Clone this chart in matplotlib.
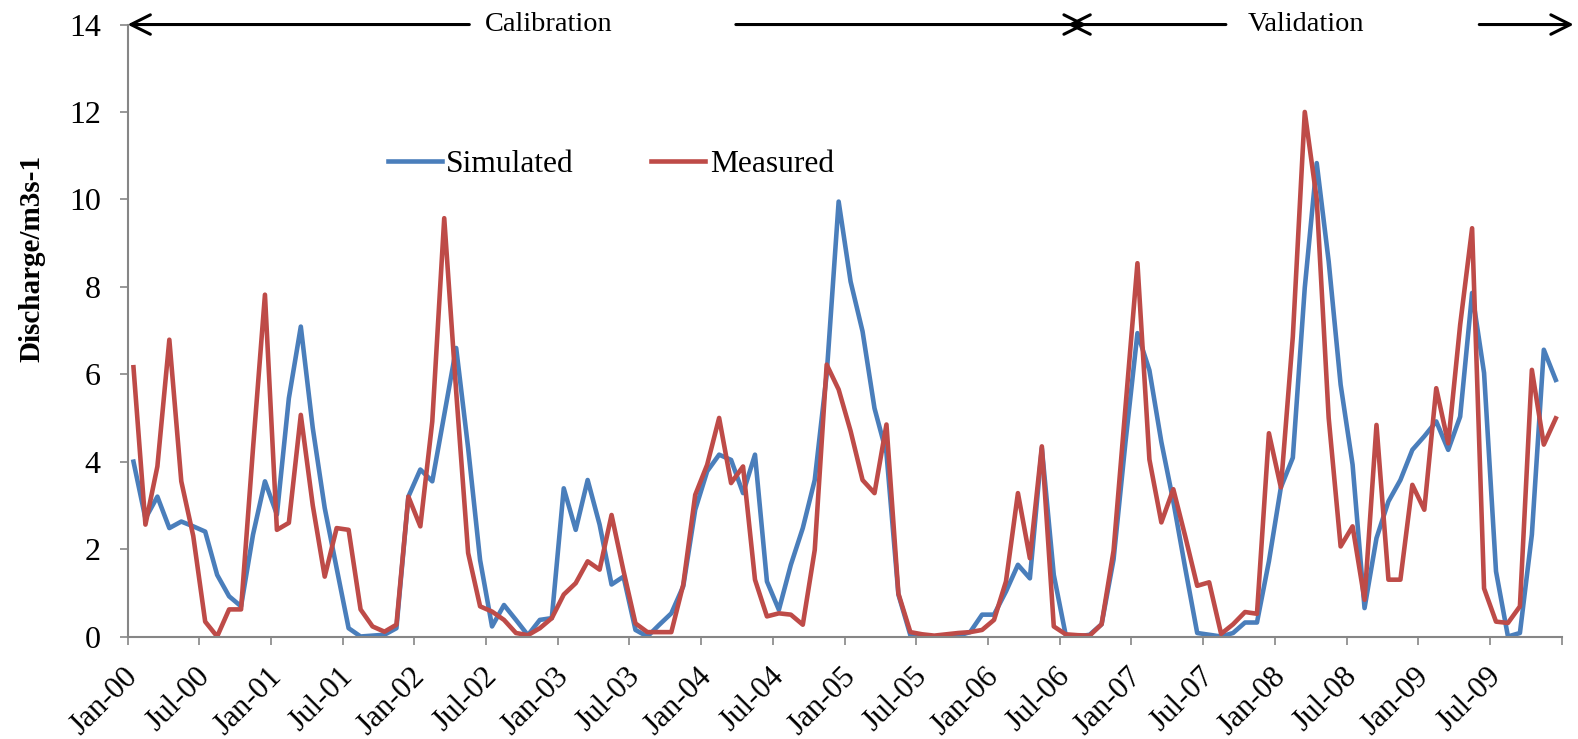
import numpy as np
import matplotlib
matplotlib.use("Agg")
import matplotlib.pyplot as plt
import matplotlib.transforms as mtransforms

plt.rcParams['font.family'] = ['Liberation Serif', 'DejaVu Serif']

# monthly discharge, Jan-2000 .. Dec-2009
simulated = [4.0, 2.7, 3.2, 2.48, 2.63, 2.52, 2.4, 1.41, 0.92, 0.69, 2.33, 3.55,
             2.79, 5.45, 7.09, 4.77, 2.94, 1.56, 0.19, 0.0, 0.02, 0.04, 0.19, 3.2,
             3.82, 3.55, 5.07, 6.6, 4.31, 1.75, 0.23, 0.72, 0.38, 0.03, 0.38, 0.42,
             3.39, 2.44, 3.58, 2.56, 1.19, 1.37, 0.15, 0.0, 0.27, 0.53, 1.15, 2.9,
             3.78, 4.16, 4.04, 3.28, 4.16, 1.26, 0.61, 1.64, 2.48, 3.58, 6.0, 9.95,
             8.12, 6.98, 5.22, 4.2, 0.96, 0.03, 0.0, 0.0, 0.0, 0.02, 0.1, 0.5,
             0.5, 1.03, 1.64, 1.33, 4.31, 1.41, 0.03, 0.0, 0.04, 0.28, 1.76, 4.45,
             6.94, 6.09, 4.45, 3.09, 1.56, 0.08, 0.04, 0.0, 0.08, 0.32, 0.32, 1.72,
             3.41, 4.09, 7.98, 10.83, 8.58, 5.76, 3.93, 0.65, 2.25, 3.09, 3.58, 4.27,
             4.58, 4.92, 4.27, 5.03, 7.86, 6.03, 1.49, 0.0, 0.08, 2.33, 6.56, 5.87]

measured = [6.16, 2.56, 3.89, 6.79, 3.55, 2.3, 0.34, 0.0, 0.62, 0.62, 4.3, 7.82,
            2.44, 2.6, 5.07, 3.0, 1.37, 2.48, 2.44, 0.62, 0.23, 0.11, 0.27, 3.2,
            2.52, 4.92, 9.57, 5.6, 1.91, 0.69, 0.57, 0.38, 0.08, 0.03, 0.19, 0.42,
            0.96, 1.22, 1.72, 1.53, 2.78, 1.5, 0.3, 0.1, 0.1, 0.1, 1.19, 3.24,
            3.93, 5.0, 3.51, 3.89, 1.3, 0.46, 0.53, 0.5, 0.27, 1.98, 6.22, 5.65,
            4.7, 3.58, 3.28, 4.85, 0.98, 0.1, 0.05, 0.02, 0.05, 0.08, 0.1, 0.15,
            0.38, 1.26, 3.28, 1.79, 4.35, 0.23, 0.05, 0.03, 0.02, 0.28, 1.96, 5.25,
            8.54, 4.05, 2.61, 3.37, 2.29, 1.16, 1.24, 0.06, 0.28, 0.56, 0.52, 4.65,
            3.41, 6.86, 12.0, 10.0, 5.0, 2.06, 2.52, 0.84, 4.84, 1.3, 1.3, 3.47,
            2.9, 5.68, 4.42, 7.13, 9.34, 1.1, 0.34, 0.31, 0.69, 6.1, 4.39, 4.99]

tick_labels = ['Jan-00', 'Jul-00', 'Jan-01', 'Jul-01', 'Jan-02', 'Jul-02',
               'Jan-03', 'Jul-03', 'Jan-04', 'Jul-04', 'Jan-05', 'Jul-05',
               'Jan-06', 'Jul-06', 'Jan-07', 'Jul-07', 'Jan-08', 'Jul-08',
               'Jan-09', 'Jul-09', '']

# period split (months from Jan-00), calibration | validation
split_month = 79.45

fig = plt.figure(figsize=(15.78, 7.39), dpi=100)
ax = fig.add_axes([0.0808, 0.1387, 0.9089, 0.8281])

n = len(simulated)
x = np.arange(n) + 0.5
ax.plot(x, simulated, color='#4A7EBB', lw=3.3, label='Simulated', solid_joinstyle='round')
ax.plot(x, measured, color='#BE4B48', lw=3.3, label='Measured', solid_joinstyle='round')

ax.set_xlim(0, n)
ax.set_ylim(0, 14)
ax.set_xticks(np.arange(0, n + 1, 6))
ax.set_xticklabels(tick_labels, rotation=45, ha='right', va='top',
                   rotation_mode='anchor', fontsize=22.3)
ax.set_yticks(np.arange(0, 15, 2))
ax.tick_params(axis='y', labelsize=23, length=5.8, width=1.2, color='#868686', pad=13.5)
ax.tick_params(axis='x', length=5.8, width=1.2, color='#868686', pad=12.5)

# nudge the slanted date labels a little to the left
shift = mtransforms.ScaledTranslation(-0.04, 0, fig.dpi_scale_trans)
for lab in ax.get_xticklabels():
    lab.set_transform(lab.get_transform() + shift)

for s in ['top', 'right']:
    ax.spines[s].set_visible(False)
for s in ['left', 'bottom']:
    ax.spines[s].set_color('#868686')
    ax.spines[s].set_linewidth(1.5)

ax.set_ylabel('Discharge/m3s-1', fontsize=21, fontweight='bold')
ax.yaxis.set_label_coords(-0.0573, 0.618)

ax.legend(loc='center left', bbox_to_anchor=(0.1814, 0.772), ncol=2, frameon=False,
          fontsize=22.7, handlelength=1.72, handletextpad=0.14, columnspacing=2.45,
          borderpad=0, borderaxespad=0)

arrow = dict(arrowstyle='->,head_length=0.7,head_width=0.35', color='black', lw=2.2,
             shrinkA=0, shrinkB=0, mutation_scale=20)
head = 0.81  # half arrowhead length in months, so the two heads cross as an X
ax.annotate('', xy=(0, 14), xytext=(28.6, 14), arrowprops=arrow, annotation_clip=False)
ax.text(35.27, 14, 'Calibration', ha='center', va='center', fontsize=20.4)
ax.annotate('', xy=(split_month + head, 14), xytext=(50.9, 14), arrowprops=arrow,
            annotation_clip=False)
ax.annotate('', xy=(split_month - head, 14), xytext=(91.9, 14), arrowprops=arrow,
            annotation_clip=False)
ax.text(98.6, 14, 'Validation', ha='center', va='center', fontsize=20.4)
ax.annotate('', xy=(121.0, 14), xytext=(113.1, 14), arrowprops=arrow, annotation_clip=False)

fig.savefig('out.png', dpi=100)
